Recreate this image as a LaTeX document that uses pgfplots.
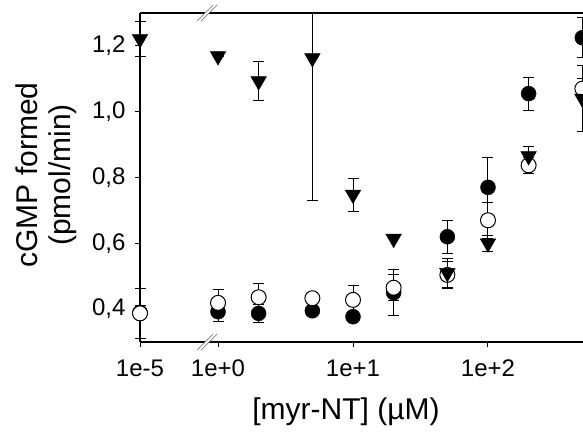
\documentclass[border=0pt]{standalone}
\usepackage{fontspec}
\setmainfont{Liberation Sans}
\usepackage{pgfplots}
\pgfplotsset{compat=1.18}
\begin{document}
\begin{tikzpicture}[x=1bp,y=1bp]
\path[use as bounding box] (0,0) rectangle (583,432);
\begin{axis}[
  at={(140bp,90bp)}, anchor=south west,
  scale only axis, width=443bp, height=329bp,
  xmin=-0.578, xmax=2.704, ymin=0.3, ymax=1.3,
  clip=false,
  axis x line*=box, axis y line*=left,
  xtick pos=bottom, ytick pos=left,
  axis line style={line width=1.2bp, black, -},
  tick style={line width=1bp, black},
  major tick length=5bp, tick align=outside,
  xtick={-0.578,0,1,2}, xticklabels={1e-5,1e+0,1e+1,1e+2},
  ytick={0.4,0.6,0.8,1.0,1.2},
  /pgf/number format/fixed, /pgf/number format/fixed zerofill,
  /pgf/number format/precision=1, /pgf/number format/use comma,
  /pgf/number format/assume math mode=true,
  ticklabel style={font=\fontsize{24bp}{28bp}\selectfont},
  xticklabel style={yshift=-9bp},
  yticklabel style={xshift=-6bp},
]
% filled circles
\addplot[black, only marks, mark=*, mark size=7.5bp, mark options={fill=black, draw=black},
  error bars/.cd, y dir=both, y explicit,
  error bar style={line width=1bp, black},
  error mark options={rotate=90, mark size=5.5bp, line width=1bp, black}]
coordinates {
(-0.578,0.390) +- (0,0.020)
(0,0.392) +- (0,0.030)
(0.301,0.387) +- (0,0.028)
(0.699,0.395) +- (0,0)
(1,0.377) +- (0,0)
(1.301,0.450) +- (0,0.070)
(1.699,0.620) +- (0,0.050)
(2,0.770) +- (0,0.090)
(2.301,1.055) +- (0,0.050)
(2.699,1.225) +- (0,0.060)
};
% open circles
\addplot[black, only marks, mark=*, mark size=7.5bp, mark options={fill=white, draw=black, line width=1bp},
  error bars/.cd, y dir=both, y explicit,
  error bar style={line width=1bp, black},
  error mark options={rotate=90, mark size=5.5bp, line width=1bp, black}]
coordinates {
(-0.578,0.387) +- (0,0.077)
(0,0.419) +- (0,0.040)
(0.301,0.436) +- (0,0.043)
(0.699,0.433) +- (0,0)
(1,0.428) +- (0,0.045)
(1.301,0.465) +- (0,0.040)
(1.699,0.504) +- (0,0.040)
(2,0.670) +- (0,0.055)
(2.301,0.837) +- (0,0.025)
(2.699,1.070) +- (0,0.030)
};
% triangles
\addplot[black, only marks, mark=triangle*, mark size=9bp, mark options={rotate=180, fill=black, draw=black},
  error bars/.cd, y dir=both, y explicit,
  error bar style={line width=1bp, black},
  error mark options={rotate=90, mark size=5.5bp, line width=1bp, black}]
coordinates {
(-0.578,1.221) +- (0,0.053)
(0,1.169) +- (0,0)
(0.301,1.093) +- (0,0.060)
(0.699,1.163) += (0,0.137) -= (0,0.432)
(1,0.748) +- (0,0.050)
(1.301,0.614) +- (0,0)
(1.699,0.510) +- (0,0.045)
(2,0.600) +- (0,0.025)
(2.301,0.865) +- (0,0.030)
(2.699,1.040) +- (0,0.100)
};
\coordinate (bb) at (axis cs:-0.081,0.3);
\coordinate (bt) at (axis cs:-0.081,1.3);
\end{axis}
\foreach \c in {bb,bt}{
  \fill[white] ([shift={(-10,-8)}]\c) -- ([shift={(-6,-8)}]\c) -- ([shift={(10,8)}]\c) -- ([shift={(6,8)}]\c) -- cycle;
  \draw[gray, line width=0.8bp] ([shift={(-10,-8)}]\c) -- ([shift={(6,8)}]\c);
  \draw[gray, line width=0.8bp] ([shift={(-6,-8)}]\c) -- ([shift={(10,8)}]\c);
}
\node[anchor=base, font=\fontsize{30bp}{36bp}\selectfont] at (346,13) {[myr-NT] (µM)};
\node[rotate=90, align=center, font=\fontsize{30bp}{33bp}\selectfont] at (46,257) {cGMP formed\\(pmol/min)};
\end{tikzpicture}
\end{document}
